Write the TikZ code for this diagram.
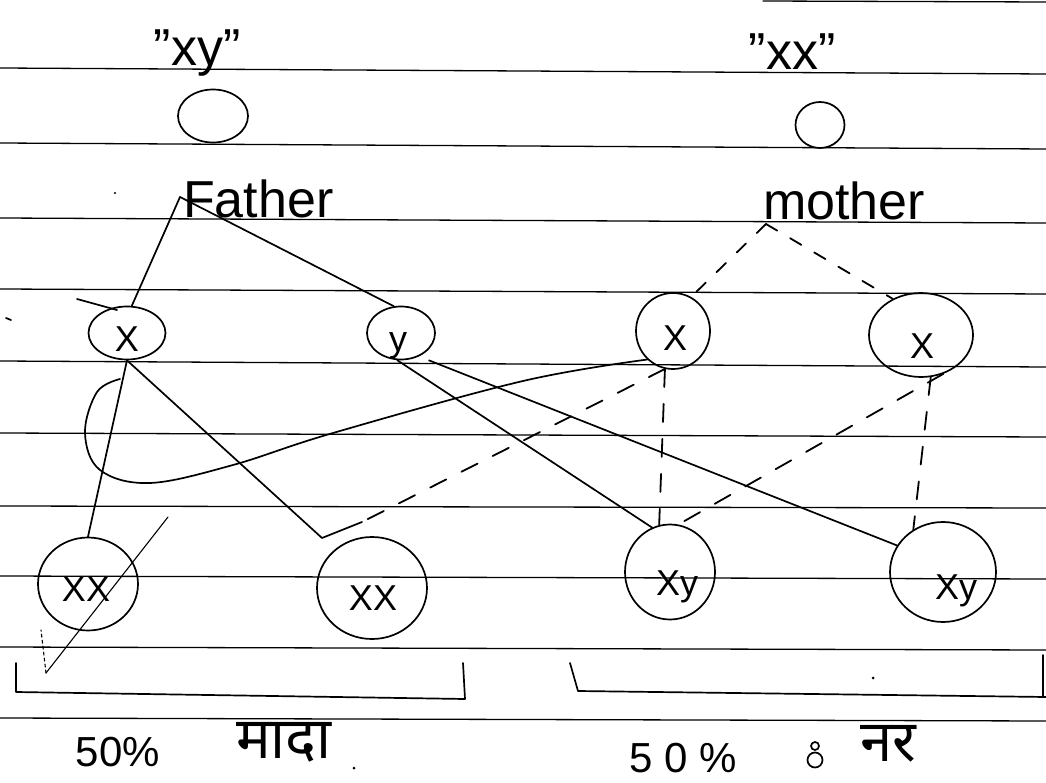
\documentclass[tikz,border=0pt]{standalone}
\usepackage{fontspec}
\setmainfont{Liberation Sans}
\newfontfamily\deva[Script=Devanagari]{Noto Sans}
\usetikzlibrary{shapes.geometric}
\begin{document}
\begin{tikzpicture}[x=1pt,y=-1pt,line cap=round,line join=round,
  rule/.style={line width=1.3pt},
  pen/.style={line width=1.7pt},
  thinpen/.style={line width=1.1pt},
  dashpen/.style={line width=1.8pt,dash pattern=on 18pt off 17pt},
  blob/.style={ellipse,draw,line width=1.7pt,inner sep=0pt},
  big/.style={font=\fontsize{52}{54}\selectfont,inner sep=0pt},
  gene/.style={font=\fontsize{36}{38}\selectfont,inner sep=0pt},
  pct/.style={font=\fontsize{42}{44}\selectfont,inner sep=0pt},
  hindi/.style={font=\deva\fontsize{58}{60}\selectfont,inner sep=0pt},
]
\useasboundingbox (0,0) rectangle (1046,783);

% ruled paper
\foreach \a/\b in {68/74,143/149,218/223,289/294,361/367,433/437,506/508,576/579,647/650,718/721}
  \draw[rule] (0,\a) -- (1046,\b);
\draw[rule] (763,1) -- (1046,2);

% parents
\node[big,anchor=base] (lxy) at (197,66) {"xy"};
\node[big,anchor=base] (lxx) at (792,70) {"xx"};
\node[blob,minimum width=70pt,minimum height=53pt] (fcirc) at (213,116) {};
\node[blob,minimum width=49pt,minimum height=46pt] (mcirc) at (820,125) {};
\node[big,anchor=base west] (father) at (183,218) {Father};
\node[big,anchor=base west] (mother) at (763,220) {mother};

% gametes
\node[blob,minimum width=77pt,minimum height=53pt] (xf) at (127,333) {};
\node[blob,minimum width=68pt,minimum height=53pt] (yf) at (401,333) {};
\node[blob,minimum width=74pt,minimum height=76pt] (xm1) at (673,331) {};
\node[blob,minimum width=104pt,minimum height=84pt] (xm2) at (921,335) {};
\node[gene] (txf) at (127,339) {X};
\node[gene] (tyf) at (398,346) {y};
\node[gene] (txm1) at (675,338) {X};
\node[gene] (txm2) at (922,346) {X};

% offspring
\node[blob,minimum width=100pt,minimum height=93pt] (c1) at (88,584) {};
\node[blob,minimum width=110pt,minimum height=102pt] (c2) at (372,588) {};
\node[blob,minimum width=90pt,minimum height=95pt] (c3) at (670,572) {};
\node[blob,minimum width=106pt,minimum height=100pt] (c4) at (943,572) {};
\node[gene] (tc1) at (86,589) {XX};
\node[gene] (tc2) at (373,598) {XX};
\node[gene] (tc3) at (677,587) {Xy};
\node[gene] (tc4) at (956,591) {Xy};

% father's gametes
\coordinate (fa) at (180,197);
\draw[pen] (fa) -- (xf.80);
\draw[pen] (fa) -- (yf.105);
\draw[pen] (77,299) -- (117,310);

% mother's gametes
\coordinate (ma) at (766,224);
\draw[dashpen,dash pattern=on 13pt off 15pt] (ma) -- (xm1.62);
\draw[dashpen,dash pattern=on 13pt off 15pt] (ma) -- (xm2.128);

% crosses
\coordinate (j1) at (322,538);
\coordinate (j1b) at (362,522);
\draw[pen] (xf.south) -- (c1.north);
\draw[pen] (xf.south) -- (j1) -- (j1b);
\draw[dashpen] (xm1.258) -- (j1b);
\draw[dashpen] (xm1.258) -- (c3.103);
\draw[pen] (yf.262) -- (c3.112);
\draw[pen] ([xshift=28pt]yf.south) -- (c4.150);
\draw[dashpen] (xm2.300) -- (c3.80);
\draw[dashpen] (xm2.283) -- (c4.125);

% loop from the mother's X around the father's X line
\draw[pen] plot[smooth,tension=0.6] coordinates {(xm1.228) (523,381) (333,433) (233,465) (150,483) (100,470) (85,433) (97,392) (120,379)};

% tick across the first child
\coordinate (tk) at (46,673);
\draw[thinpen] (168,517) -- (tk);
\draw[thinpen,dashed] (tk) -- (41,630);

% brackets
\draw[pen] (16,663) -- (16,692) -- (465,699) -- (463,663);
\draw[pen] (570,663) -- (578,691) -- (1046,697);
\draw[pen] (1043,655) -- (1043,697);

% shares
\node[pct,anchor=base] (p1) at (118,766) {50\%};
\node[hindi,anchor=base] (h1) at (284,758) {मादा};
\node[pct,anchor=base] (p2) at (683,772) {5 0 \%};
\node[hindi,anchor=base] (h2) at (888,761) {नर};
\draw[pen] (815,760) circle (7.5pt);
\draw[pen] (815,746) circle (4pt);

% specks
\fill (354,768) circle (1.5pt);
\fill (873,678) circle (1.5pt);
\fill (115,193) circle (1.2pt);
\draw[pen] (6,318) -- (11,320);
\end{tikzpicture}
\end{document}
